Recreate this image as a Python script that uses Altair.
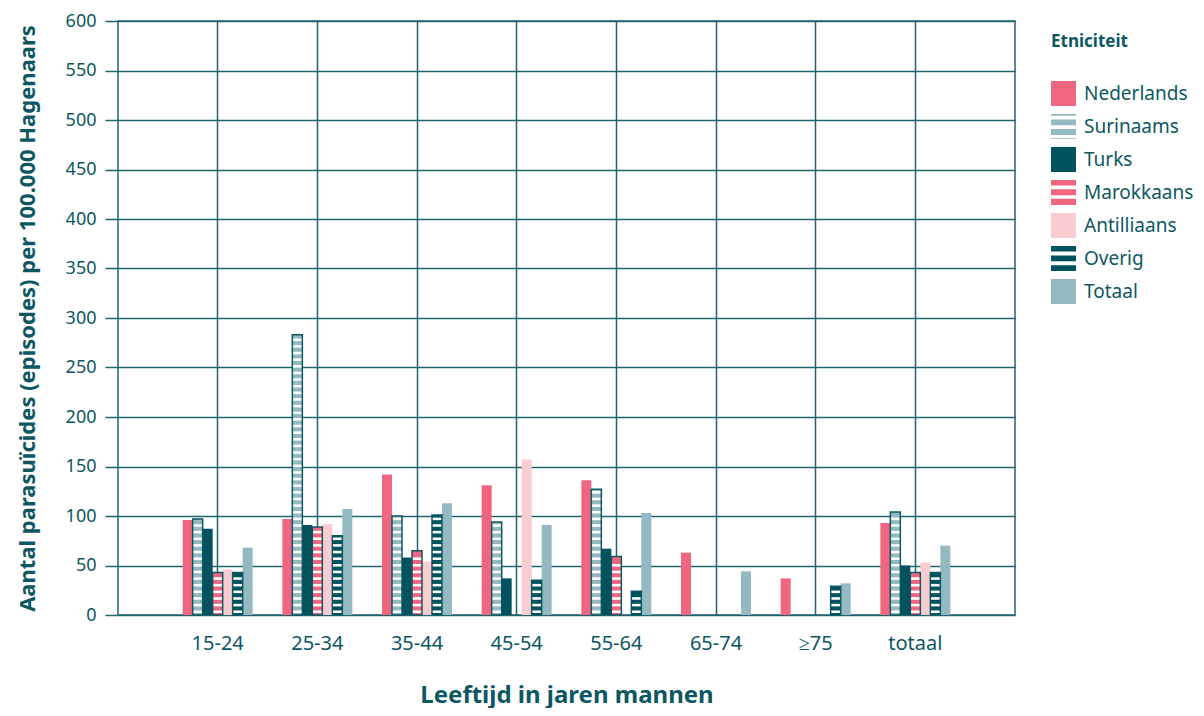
import altair as alt
import pandas as pd

ages = ["15-24", "25-34", "35-44", "45-54", "55-64", "65-74", "≥75", "totaal"]
groups = ["Nederlands", "Surinaams", "Turks", "Marokkaans", "Antilliaans", "Overig", "Totaal"]

nederlands = [96, 97, 142, 131, 136, 63, 37, 93]
surinaams = [97, 283, 100, 94, 127, 0, 0, 104]
turks = [87, 91, 58, 37, 67, 0, 0, 50]
marokkaans = [43, 89, 65, 0, 59, 0, 0, 43]
antilliaans = [46, 92, 54, 157, 0, 0, 0, 53]
overig = [43, 80, 101, 35, 24, 0, 29, 43]
totaal = [68, 107, 113, 91, 103, 44, 32, 70]

colors = ["#f0657f", "#94b9c1", "#00525c", "#f0657f", "#f8ccd0", "#00525c", "#94b9c1"]
striped = ["Surinaams", "Marokkaans", "Overig"]

TEAL = "#0d5762"
GRID = "#22646d"
FONT = "Noto Sans"

series = [nederlands, surinaams, turks, marokkaans, antilliaans, overig, totaal]
rows = []
for g, vals in zip(groups, series):
    for a, v in zip(ages, vals):
        rows.append({"age": a, "group": g, "value": v})
df = pd.DataFrame(rows)
df = df[df["value"] > 0]

# white stripes for the hatched series
PERIOD, WHITE = 6.7, 2.6
srows = []
for _, r in df[df["group"].isin(striped)].iterrows():
    k = 0
    while True:
        lo = 2.0 + k * PERIOD
        hi = lo + WHITE
        if hi > r["value"] - 1.5:
            break
        srows.append({"age": r["age"], "group": r["group"], "lo": lo, "hi": hi})
        k += 1
sdf = pd.DataFrame(srows)

# legend symbol shapes
sq = "M-1,-1H1V1H-1Z"
sur = "M-1,-1H1V-0.86H-1Z M-1,-0.56H1V-0.1H-1Z M-1,0.2H1V0.67H-1Z M-1,0.93H1V1H-1Z"
mar = "M-1,-1H1V-0.56H-1Z M-1,-0.26H1V0.22H-1Z M-1,0.5H1V1H-1Z"
ove = "M-1,-1H1V-0.56H-1Z M-1,-0.24H1V0.22H-1Z M-1,0.54H1V1H-1Z"
shapes = [sq, sur, sq, mar, sq, ove, sq]

x_enc = alt.X(
    "age:N",
    sort=ages,
    scale=alt.Scale(domain=ages, paddingInner=0, paddingOuter=0.5),
    axis=alt.Axis(
        title="Leeftijd in jaren mannen",
        labelAngle=0,
        grid=True,
        bandPosition=0.5,
        ticks=False,
        tickSize=0,
        domain=False,
        labelPadding=18,
        labelFontSize=20,
        titleFontSize=24,
        titlePadding=30,
    ),
)
offset_domain = ["_pad1"] + groups + ["_pad2"]
xo_enc = alt.XOffset(
    "group:N",
    scale=alt.Scale(domain=offset_domain, paddingInner=0, paddingOuter=0.485),
)
y_scale = alt.Scale(domain=[0, 600], nice=False)
y_axis = alt.Axis(
    title="Aantal parasuïcides (episodes) per 100.000 Hagenaars",
    values=list(range(0, 601, 50)),
    grid=True,
    domain=False,
    tickSize=13,
    labelPadding=9,
    labelFontSize=18,
    titleFontSize=22,
    titlePadding=26,
)

leg = alt.Legend(
    title="Etniciteit",
    orient="none",
    legendX=933,
    legendY=13,
    symbolSize=625,
    symbolOpacity=1,
    symbolStrokeWidth=0,
    labelFont=FONT,
    labelFontSize=19,
    labelColor=TEAL,
    labelOffset=8,
    titleFont=FONT,
    titleFontSize=17,
    titleFontWeight="bold",
    titleColor=TEAL,
    titlePadding=30,
    rowPadding=8,
)
color_scale = alt.Scale(domain=groups, range=colors)

bars = alt.Chart(df).mark_bar().encode(
    x=x_enc,
    xOffset=xo_enc,
    y=alt.Y("value:Q", scale=y_scale, axis=y_axis),
    color=alt.Color("group:N", scale=color_scale, legend=leg),
)

stripes = alt.Chart(sdf).mark_bar(color="white").encode(
    x=x_enc,
    xOffset=xo_enc,
    y=alt.Y("lo:Q", scale=y_scale),
    y2="hi:Q",
)

outline = alt.Chart(df[df["group"].isin(striped)]).mark_bar(
    fillOpacity=0, stroke=TEAL, strokeWidth=1.5
).encode(
    x=x_enc,
    xOffset=xo_enc,
    y=alt.Y("value:Q", scale=y_scale),
)

legend_pts = alt.Chart(df).mark_point(filled=True, opacity=0).encode(
    x=x_enc,
    xOffset=xo_enc,
    y=alt.Y("value:Q", scale=y_scale),
    color=alt.Color("group:N", scale=color_scale, legend=leg),
    shape=alt.Shape("group:N", scale=alt.Scale(domain=groups, range=shapes), legend=leg),
)

chart = alt.layer(bars, stripes, outline, legend_pts).properties(
    width=897,
    height=594,
    padding={"left": 8, "top": 4, "right": 0, "bottom": 1},
    background="white",
).configure_view(
    stroke=GRID, strokeWidth=1.5
).configure_axis(
    labelFont=FONT,
    titleFont=FONT,
    labelColor=TEAL,
    titleColor=TEAL,
    titleFontWeight="bold",
    gridColor=GRID,
    gridWidth=1.5,
    gridOpacity=1,
    tickColor=GRID,
    tickWidth=1.5,
)

chart.save("out.html", embed_options={"renderer": "svg", "actions": False})
